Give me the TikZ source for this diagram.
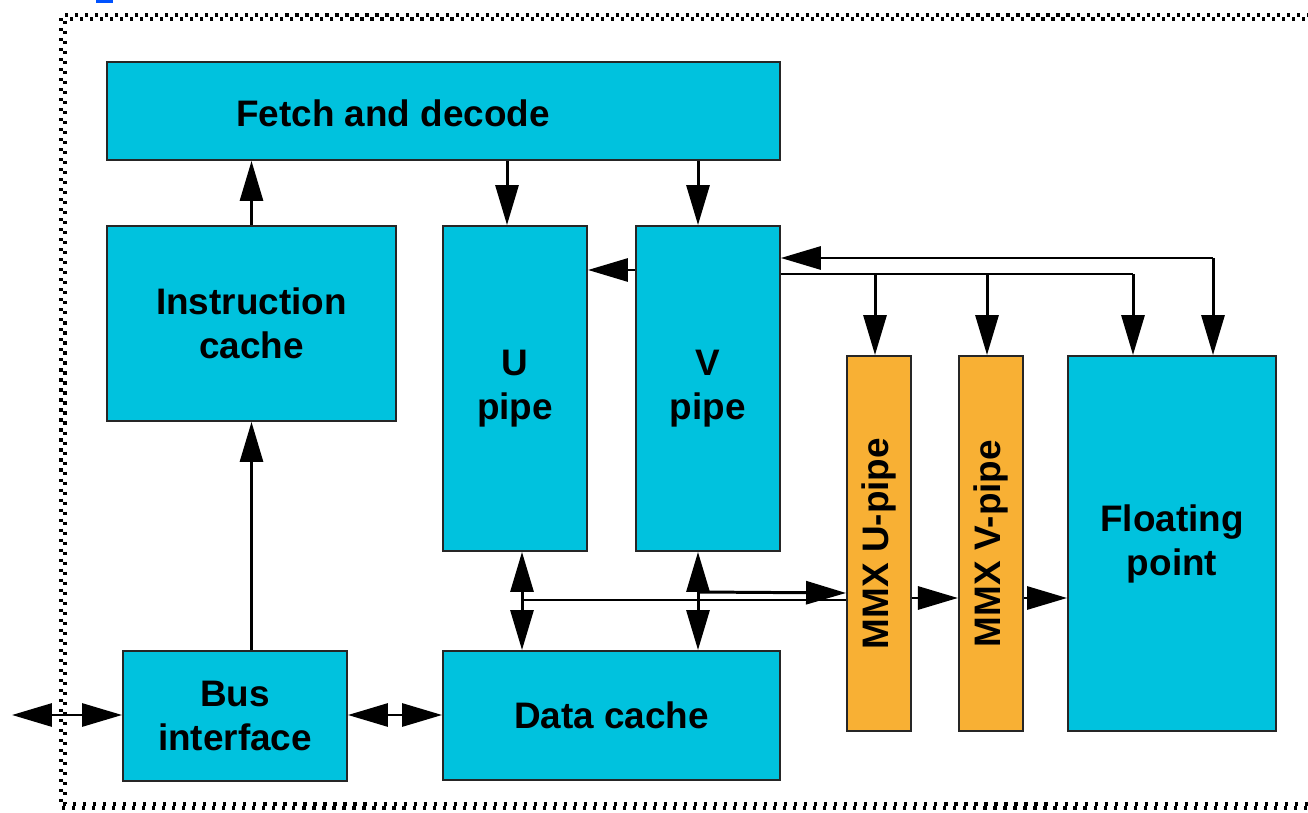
\documentclass[tikz,border=0pt]{standalone}
\usepackage{fontspec}
\setmainfont{Liberation Sans}
\usepackage{xcolor}
\usetikzlibrary{positioning, calc, arrows.meta}

\definecolor{PipeCyan}{RGB}{0,194,222}
\definecolor{MmxOrange}{RGB}{248,176,52}
\definecolor{MarkBlue}{RGB}{0,82,255}

\begin{document}
\begin{tikzpicture}[x=0.02cm, y=-0.02cm,
				>={Triangle[length=0.8cm, width=0.46cm]},
				CpuBlock/.style={rectangle, draw=black!85, fill=PipeCyan, line width=1.1pt, align=center, font=\fontsize{21}{25}\selectfont\bfseries},
				MmxBlock/.style={CpuBlock, fill=MmxOrange, minimum width=1.28cm, minimum height=7.5cm},
				BlockText/.style={font=\fontsize{21}{25}\selectfont\bfseries},
				FlowLine/.style={line width=1.7pt},
				FrameDots/.style={line width=1.8pt, dash pattern=on 1.8pt off 3.9pt}]

			\useasboundingbox (0,0) rectangle (1308,813);

			% Frame
			\fill[MarkBlue] (96,0) rectangle (113,3);
			\draw[FrameDots] (1320,15) -- (61,15) -- (61,808) -- (1320,808);
			\draw[FrameDots, dash phase=2.8pt] (1320,19) -- (65,19) -- (65,804) -- (1320,804);

			% Nodes
			\node[CpuBlock, minimum width=13.46cm, minimum height=1.96cm] (FetchNode) at (443.5,111) {};
			\node[BlockText] (FetchText) at (393,113) {Fetch and decode};

			\node[CpuBlock, minimum width=5.78cm, minimum height=3.9cm] (ICacheNode) at (251.5,323.5) {Instruction\\cache};
			\node[CpuBlock, minimum width=2.88cm, minimum height=6.5cm] (UPipeNode) at (515,388.5) {U\\pipe};
			\node[CpuBlock, minimum width=2.88cm, minimum height=6.5cm] (VPipeNode) [right=0.94cm of UPipeNode] {V\\pipe};

			\node[MmxBlock] (MMXUNode) at (879,543.5) {};
			\node[MmxBlock] (MMXVNode) [right=0.92cm of MMXUNode] {};
			\node[BlockText, rotate=90] (MMXUText) at (MMXUNode) {MMX U-pipe};
			\node[BlockText, rotate=90] (MMXVText) at (MMXVNode) {MMX V-pipe};
			\node[CpuBlock, minimum width=4.16cm, minimum height=7.5cm] (FPNode) at (1172,543.5) {Floating\\point};

			\node[CpuBlock, minimum width=4.48cm, minimum height=2.6cm] (BusNode) at (235,716) {Bus\\interface};
			\node[CpuBlock, minimum width=6.74cm, minimum height=2.58cm] (DCacheNode) at (611.5,715.5) {Data cache};

			\coordinate (OutsideEnd) at (12,715);
			\coordinate (SplitEnd) at (1133,274);
			\coordinate (FeedCorner) at (1213,258);
			\coordinate (UTap) at (522,600);

			% Lines
			\draw[FlowLine, ->] (ICacheNode.north) to (FetchNode.south -| ICacheNode.north);
			\draw[FlowLine, ->] (BusNode.north -| ICacheNode.south) to (ICacheNode.south);
			\draw[FlowLine, ->] (FetchNode.south -| 507,0) to (UPipeNode.north -| 507,0);
			\draw[FlowLine, ->] (FetchNode.south -| 698,0) to (VPipeNode.north -| 698,0);
			\draw[FlowLine, ->] (VPipeNode.west |- 0,270) to (UPipeNode.east |- 0,270);

			\draw[FlowLine] (VPipeNode.east |- SplitEnd) to (SplitEnd);
			\draw[FlowLine, ->] (875,274) to (MMXUNode.north -| 875,0);
			\draw[FlowLine, ->] (987,274) to (MMXVNode.north -| 987,0);
			\draw[FlowLine, ->] (SplitEnd) to (FPNode.north -| SplitEnd);
			\draw[FlowLine, ->] (FeedCorner) to (VPipeNode.east |- FeedCorner);
			\draw[FlowLine, ->] (FeedCorner) to (FPNode.north -| FeedCorner);

			\draw[FlowLine, <->] (UPipeNode.south -| UTap) to (DCacheNode.north -| UTap);
			\draw[FlowLine, <->] (VPipeNode.south -| 698,0) to (DCacheNode.north -| 698,0);
			\draw[FlowLine] (UTap) to (MMXUNode.west |- UTap);
			\draw[FlowLine, ->] (698,592) to (MMXUNode.west |- 0,593);
			\draw[FlowLine, ->] (MMXUNode.east |- 0,598) to (MMXVNode.west |- 0,598);
			\draw[FlowLine, ->] (MMXVNode.east |- 0,598) to (FPNode.west |- 0,598);

			\draw[FlowLine, <->] (OutsideEnd) to (BusNode.west |- OutsideEnd);
			\draw[FlowLine, <->] (BusNode.east |- OutsideEnd) to (DCacheNode.west |- OutsideEnd);
		\end{tikzpicture}
\end{document}
